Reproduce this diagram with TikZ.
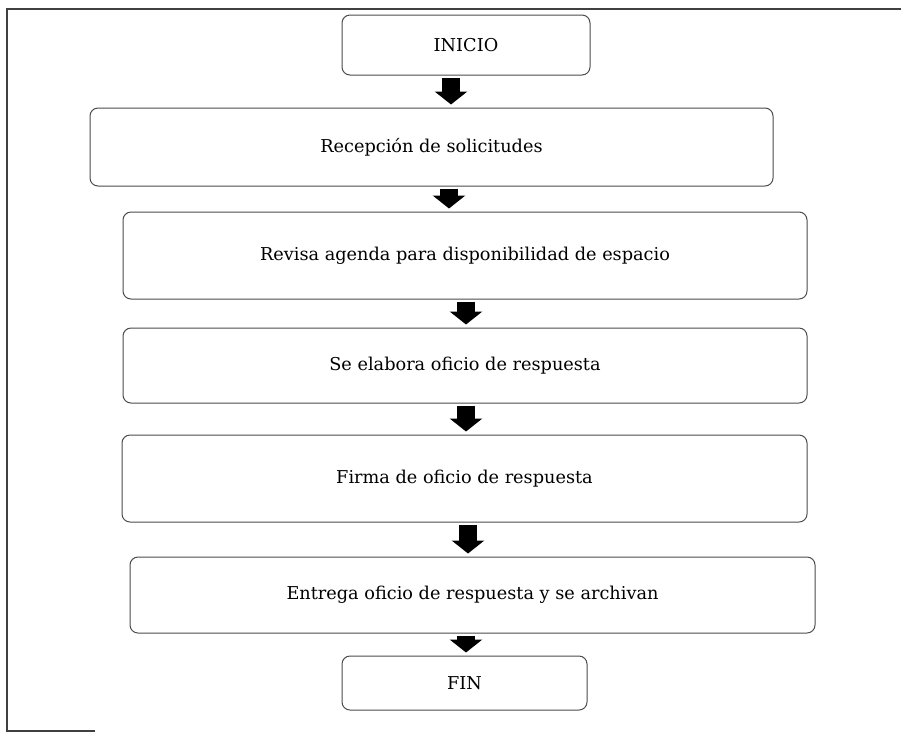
\documentclass[tikz,border=0pt]{standalone}
\usepackage{fontspec}
\setmainfont{DejaVu Serif}
\usetikzlibrary{arrows.meta}
\begin{document}
\begin{tikzpicture}[x=1pt,y=-1pt,
  stepbox/.style={draw=black!70, line width=1pt, rounded corners=8pt, fill=white,
    inner sep=0pt, font=\fontsize{17.7}{21}\selectfont},
  bigarrow/.style={line width=18pt, -{Triangle[width=32pt,length=13pt]}, black,
    shorten <=2pt, shorten >=3pt},
  frameline/.style={draw=black!75, line width=1.3pt}]
\useasboundingbox (0,0) rectangle (901,732);
\fill[white] (0,0) rectangle (901,732);
% frame
\draw[frameline] (901,9) -- (7,9) -- (7,731) -- (95,731);
% boxes
\node[stepbox, minimum width=248pt, minimum height=60pt] (inicio) at (466,45) {INICIO};
\node[stepbox, minimum width=683pt, minimum height=78pt] (recep) at (431.5,147) {Recepción de solicitudes};
\node[stepbox, minimum width=684pt, minimum height=87pt] (revisa) at (465,255.5) {Revisa agenda para disponibilidad de espacio};
\node[stepbox, minimum width=684pt, minimum height=75pt] (elabora) at (465,365.5) {Se elabora oficio de respuesta};
\node[stepbox, minimum width=685pt, minimum height=87pt] (firma) at (464.5,478.5) {Firma de oficio de respuesta};
\node[stepbox, minimum width=685pt, minimum height=76pt] (entrega) at (472.5,595) {Entrega oficio de respuesta y se archivan};
\node[stepbox, minimum width=245pt, minimum height=54pt] (fin) at (464.5,683) {FIN};
% arrow columns
\coordinate (c1) at (451,0);
\coordinate (c2) at (449,0);
\coordinate (c3) at (466,0);
\coordinate (c4) at (466,0);
\coordinate (c5) at (468,0);
\coordinate (c6) at (466,0);
\draw[bigarrow] (inicio.south -| c1) -- (recep.north -| c1);
\draw[bigarrow] (recep.south -| c2) -- (revisa.north -| c2);
\draw[bigarrow] (revisa.south -| c3) -- (elabora.north -| c3);
\draw[bigarrow] (elabora.south -| c4) -- (firma.north -| c4);
\draw[bigarrow] (firma.south -| c5) -- (entrega.north -| c5);
\draw[bigarrow] (entrega.south -| c6) -- (fin.north -| c6);
\end{tikzpicture}
\end{document}
